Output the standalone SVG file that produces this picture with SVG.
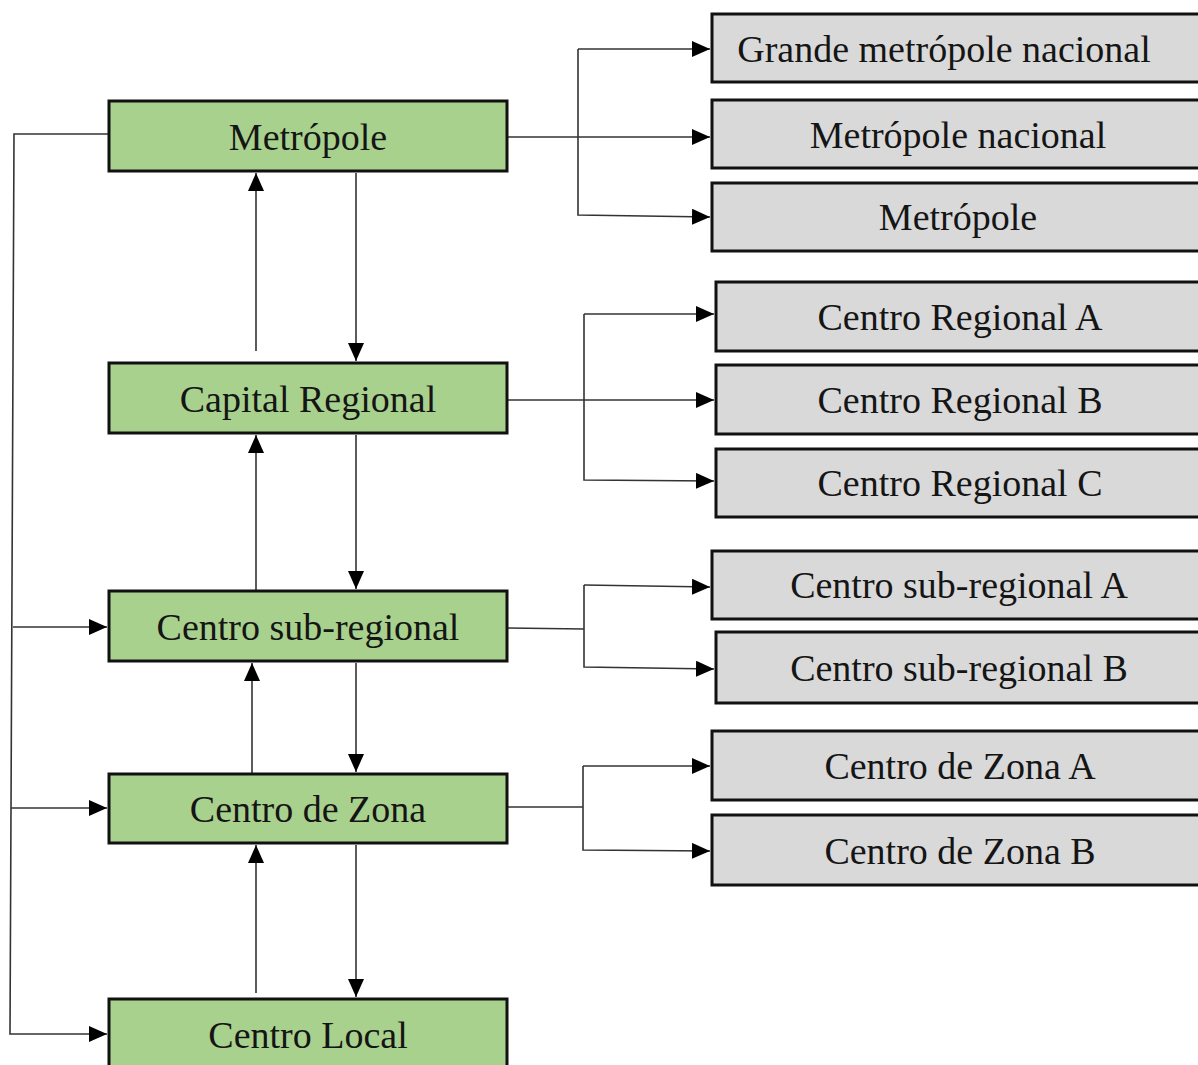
<svg xmlns="http://www.w3.org/2000/svg" width="1198" height="1065" viewBox="0 0 1198 1065">
<style>
.g{fill:#a9d18e;stroke:#111;stroke-width:3}
.r{fill:#d9d9d9;stroke:#111;stroke-width:3}
.t{font-family:"Liberation Serif","Times New Roman",serif;font-size:38px;fill:#151515;text-anchor:middle;dominant-baseline:central}
.c{fill:none;stroke:#333;stroke-width:1.6}
</style>
<defs>
<marker id="a" markerWidth="18" markerHeight="16" refX="18" refY="8" orient="auto" markerUnits="userSpaceOnUse">
<path d="M0,0 L18,8 L0,16 Z" fill="#000"/>
</marker>
</defs>
<rect width="1198" height="1065" fill="#fff"/>
<g id="connectors">
<path class="c" d="M109,134 H14 L10,1034 H107" marker-end="url(#a)"/>
<path class="c" d="M13,627 H107" marker-end="url(#a)"/>
<path class="c" d="M11,808 H107" marker-end="url(#a)"/>
<path class="c" d="M256,351 V173" marker-end="url(#a)"/>
<path class="c" d="M356,173 V361" marker-end="url(#a)"/>
<path class="c" d="M256,591 V435" marker-end="url(#a)"/>
<path class="c" d="M356,435 V589" marker-end="url(#a)"/>
<path class="c" d="M252,774 V663" marker-end="url(#a)"/>
<path class="c" d="M356,663 V772" marker-end="url(#a)"/>
<path class="c" d="M256,993 V845" marker-end="url(#a)"/>
<path class="c" d="M356,845 V997" marker-end="url(#a)"/>
<path class="c" d="M507,137 H710" marker-end="url(#a)"/>
<path class="c" d="M578,49 H710" marker-end="url(#a)"/>
<path class="c" d="M578,49 V215 L710,217" marker-end="url(#a)"/>
<path class="c" d="M507,400 H714" marker-end="url(#a)"/>
<path class="c" d="M584,314 H714" marker-end="url(#a)"/>
<path class="c" d="M584,314 V480 L714,481" marker-end="url(#a)"/>
<path class="c" d="M507,628 L584,629"/>
<path class="c" d="M584,585 V667 L714,669" marker-end="url(#a)"/>
<path class="c" d="M584,585 L710,587" marker-end="url(#a)"/>
<path class="c" d="M507,807 H583"/>
<path class="c" d="M583,766 V850 L710,851" marker-end="url(#a)"/>
<path class="c" d="M583,766 H710" marker-end="url(#a)"/>
</g>
<g id="metropole"><rect class="g" x="109" y="101" width="398" height="70"/><text class="t" x="308" y="137">Metrópole</text></g>
<g id="capital-regional"><rect class="g" x="109" y="363" width="398" height="70"/><text class="t" x="308" y="399">Capital Regional</text></g>
<g id="centro-sub-regional"><rect class="g" x="109" y="591" width="398" height="70"/><text class="t" x="308" y="627">Centro sub-regional</text></g>
<g id="centro-de-zona"><rect class="g" x="109" y="774" width="398" height="69"/><text class="t" x="308" y="809">Centro de Zona</text></g>
<g id="centro-local"><rect class="g" x="109" y="999" width="398" height="80"/><text class="t" x="308" y="1035">Centro Local</text></g>
<g id="grande-metropole-nacional"><rect class="r" x="712" y="14" width="500" height="68"/><text class="t" x="944" y="49">Grande metrópole nacional</text></g>
<g id="metropole-nacional"><rect class="r" x="712" y="100" width="500" height="68"/><text class="t" x="958" y="135">Metrópole nacional</text></g>
<g id="metropole-2"><rect class="r" x="712" y="183" width="500" height="68"/><text class="t" x="958" y="217">Metrópole</text></g>
<g id="centro-regional-a"><rect class="r" x="716" y="282" width="500" height="69"/><text class="t" x="960" y="317">Centro Regional A</text></g>
<g id="centro-regional-b"><rect class="r" x="716" y="365" width="500" height="69"/><text class="t" x="960" y="400">Centro Regional B</text></g>
<g id="centro-regional-c"><rect class="r" x="716" y="449" width="500" height="68"/><text class="t" x="960" y="483">Centro Regional C</text></g>
<g id="centro-sub-regional-a"><rect class="r" x="712" y="551" width="500" height="68"/><text class="t" x="959" y="585">Centro sub-regional A</text></g>
<g id="centro-sub-regional-b"><rect class="r" x="716" y="632" width="500" height="71"/><text class="t" x="959" y="668">Centro sub-regional B</text></g>
<g id="centro-de-zona-a"><rect class="r" x="712" y="731" width="500" height="69"/><text class="t" x="960" y="766">Centro de Zona A</text></g>
<g id="centro-de-zona-b"><rect class="r" x="712" y="815" width="500" height="70"/><text class="t" x="960" y="851">Centro de Zona B</text></g>
</svg>
